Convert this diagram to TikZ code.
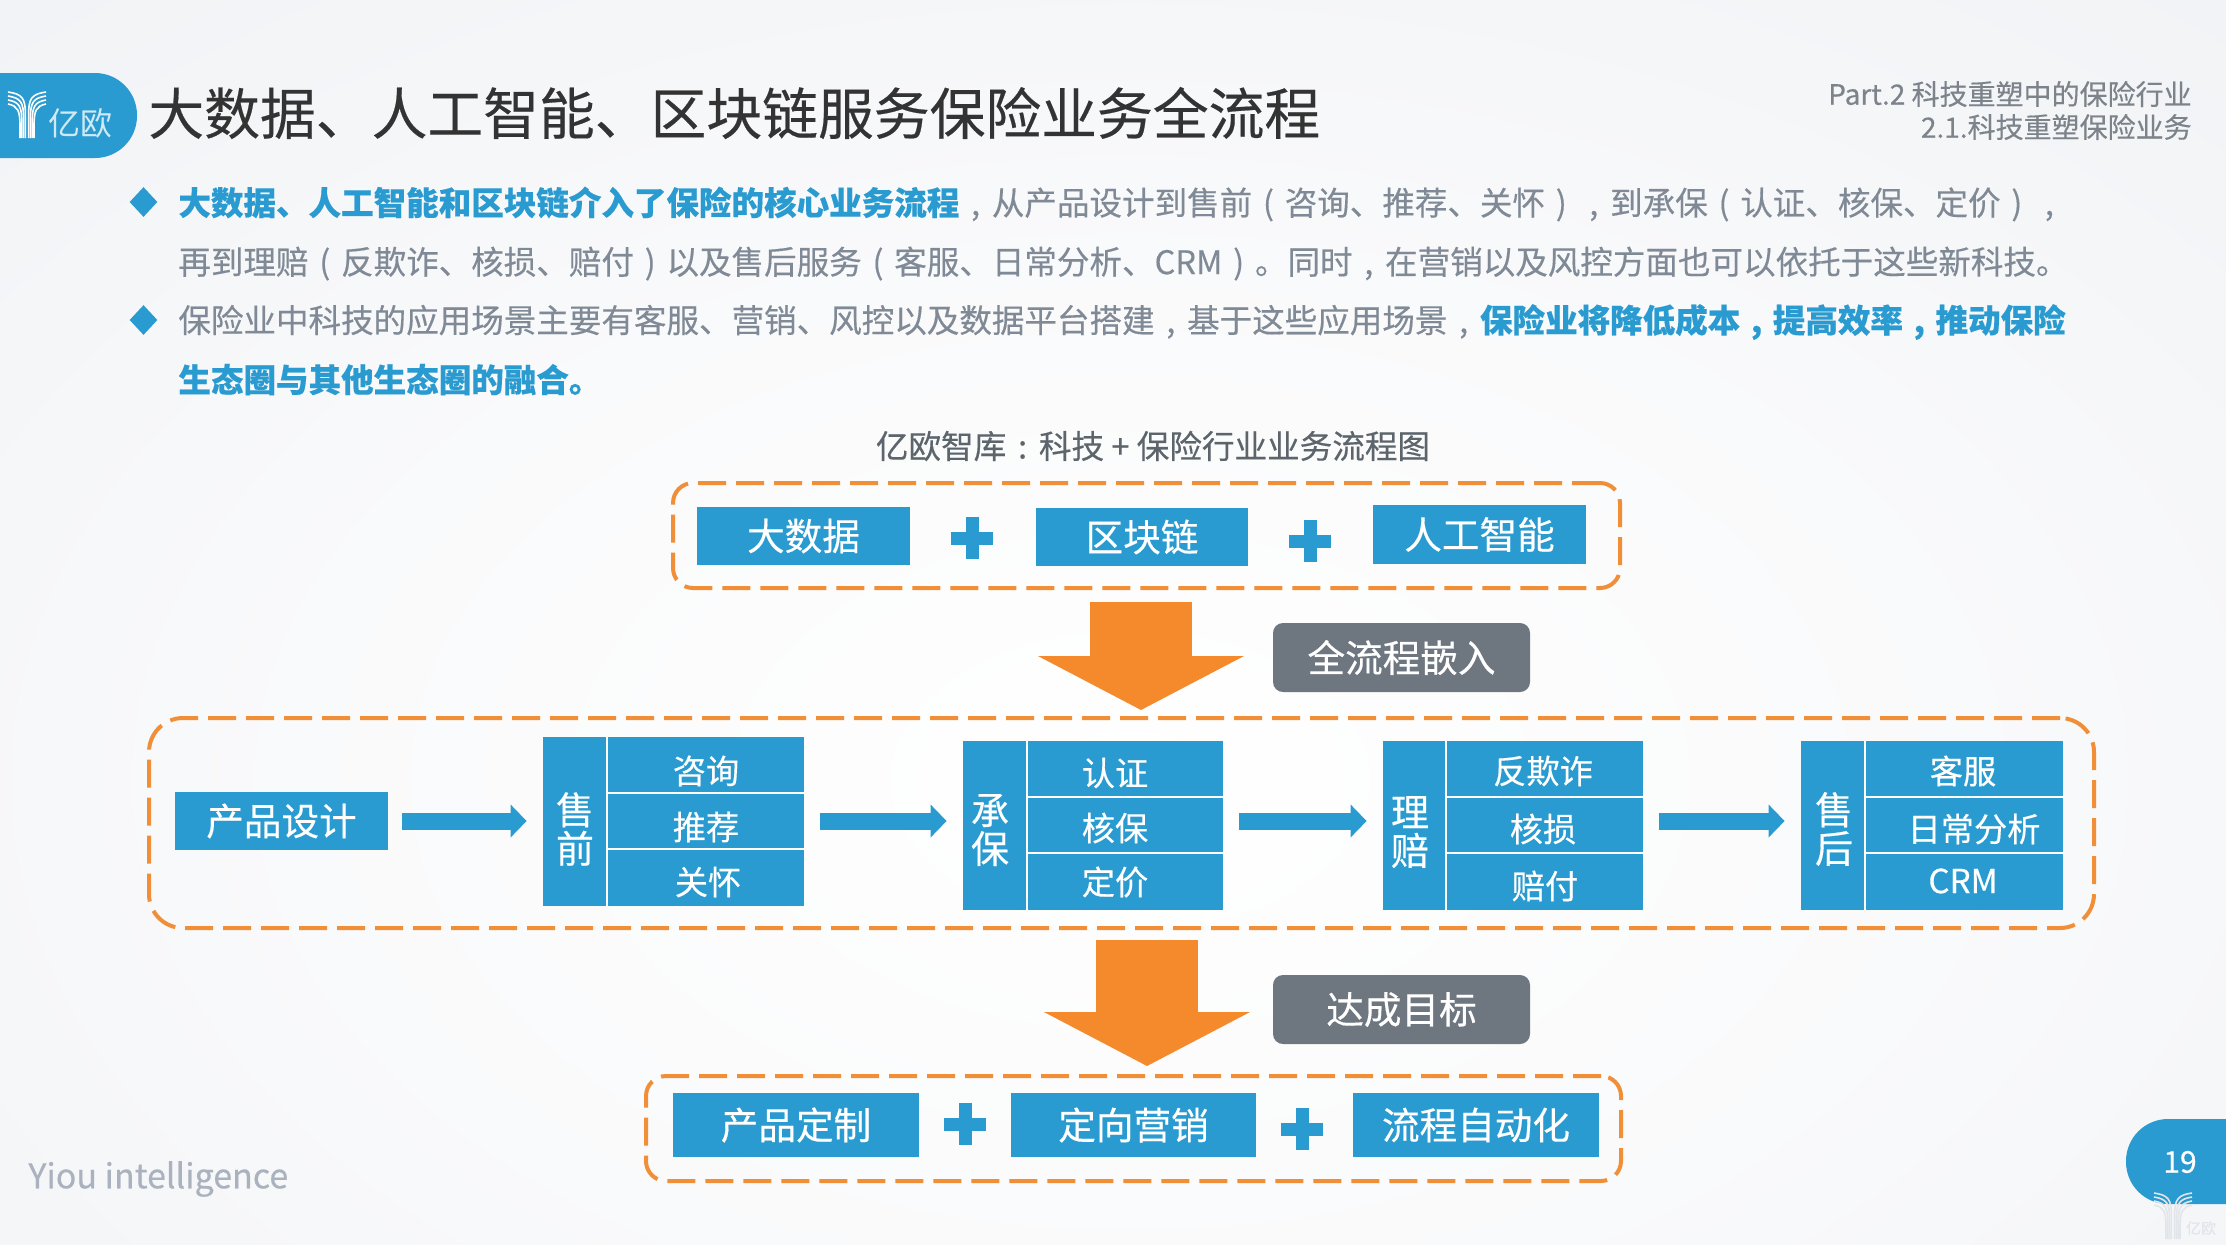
\documentclass[tikz,border=0pt]{standalone}
\usepackage{fontspec}
\setmainfont{Noto Sans CJK SC}[FakeBold=0.35]
\setsansfont{Noto Sans CJK SC}
\newfontfamily\thinf{Noto Sans CJK SC}
\usetikzlibrary{arrows.meta,shapes.geometric}
\definecolor{bgc}{HTML}{EBEDF1}
\definecolor{blu}{HTML}{2A9BD0}
\definecolor{org}{HTML}{F08F38}
\definecolor{orgf}{HTML}{F48A2C}
\definecolor{tagc}{HTML}{6E7680}
\definecolor{bodyc}{HTML}{808A96}
\definecolor{titlec}{HTML}{333333}
\definecolor{capc}{HTML}{5C646C}
\definecolor{hdrc}{HTML}{7C838B}
\definecolor{yiouc}{HTML}{AAB2BF}
\definecolor{markc}{HTML}{E2E5EA}
\definecolor{logot}{HTML}{CFEAF5}
\pgfdeclareradialshading{bgrad}{\pgfpoint{0bp}{0bp}}{color(0bp)=(white); color(9bp)=(white!70!bgc); color(25bp)=(bgc); color(50bp)=(bgc)}
\newcommand{\fs}[1]{\fontsize{#1}{#1}\selectfont}
\newcommand{\hl}[1]{{\bfseries\color{blu}#1}}
\newcommand{\zc}[1]{\makebox[1em][c]{#1}}
\tikzset{
  px/.style={x=0.5pt,y=-0.5pt},
  dashbox/.style={draw=org,line width=2pt,dash pattern=on 14pt off 5pt,inner sep=0pt,fill=none},
  bluebox/.style={fill=blu,text=white,inner sep=0pt,font=\fs{18.8}},
  tagbox/.style={fill=tagc,text=white,inner sep=0pt,rounded corners=5pt,font=\fs{18.8}},
  cell/.style={text=white,inner sep=0pt,font=\fs{16.6}},
  side/.style={text=white,inner sep=0pt,align=center,font=\fontsize{19}{19.3}\selectfont},
  divider/.style={draw=white,line width=0.9pt},
  blockarrow/.style={draw=blu,line width=8.5pt,-{Triangle[length=8pt,width=16pt]},shorten <=8pt,shorten >=8pt},
  bigarrow/.style={draw=orgf,line width=51pt,-{Triangle[length=27pt,width=102pt]}},
  plusbar/.style={draw=blu,line width=6.5pt},
  bodyline/.style={anchor=west,inner sep=0pt,text=bodyc,font=\fs{16.27}},
  bullet/.style={diamond,fill=blu,inner sep=0pt,minimum width=14pt,minimum height=15pt},
  logoline/.style={line width=0.8pt},
}
\newcommand{\pxnode}[7]{% style,name,x1,y1,x2,y2,text
  \pgfmathsetmacro{\pxw}{(#5-#3)/2}\pgfmathsetmacro{\pxh}{(#6-#4)/2}
  \node[#1,minimum width=\pxw pt,minimum height=\pxh pt] (#2) at ({(#3+#5)/2},{(#4+#6)/2}) {#7};}
\newcommand{\plussign}[3]{% name,x,y
  \coordinate (#1) at (#2,#3);
  \draw[plusbar] (#2-21,#3) -- (#2+21,#3);
  \draw[plusbar] (#2,#3-21) -- (#2,#3+21);}
\newcommand{\ylogo}[3]{% x,y,colour
  \begin{scope}[shift={(#1,#2)}]
    \foreach \o in {0,4,8,12}{
      \pgfmathsetmacro{\xa}{12+(12-\o)*0.45}
      \pgfmathsetmacro{\xb}{38-\xa}
      \draw[logoline,#3] (0,\o) .. controls (\xa*0.8,\o+2) and (\xa,\o+6) .. (\xa,\o+22) -- (\xa,46);
      \draw[logoline,#3] (38,\o) .. controls (38-\xa*0.8,\o+2) and (\xb,\o+6) .. (\xb,\o+22) -- (\xb,46);
    }
  \end{scope}}
\begin{document}
\begin{tikzpicture}[px]
\useasboundingbox (0,0) rectangle (2226,1244);
\fill[bgc] (0,0) rectangle (2226,1244);
\begin{scope}
  \clip (0,0) rectangle (2226,1244);
  \shade[shading=bgrad] (1130,780) ellipse (2400 and 1500);
  \fill[blu,rounded corners=21pt] (-60,73) rectangle (137,158);
  \fill[blu,rounded corners=21pt] (2126,1119) rectangle (2300,1204);
\end{scope}
% header
\ylogo{8}{92}{white}
\node[text=logot,inner sep=0pt,font=\thinf\fs{16}] (logotext) at (80,123) {亿欧};
\node[anchor=west,inner sep=0pt,text=titlec,font=\fs{27.9}] (title) at (148,113) {大数据、人工智能、区块链服务保险业务全流程};
\node[anchor=east,inner sep=0pt,text=hdrc,font=\fs{14}] (hdr1) at (2192,94) {Part.2 科技重塑中的保险行业};
\node[anchor=east,inner sep=0pt,text=hdrc,font=\fs{14}] (hdr2) at (2192,127) {2.1.科技重塑保险业务};
% body text
\node[bullet] (b1) at (143.5,202) {};
\node[bullet] (b2) at (143.5,320) {};
\node[bodyline] (l1) at (178,204) {\hl{大数据、人工智能和区块链介入了保险的核心业务流程}\zc{,}从产品设计到售前\zc{(}咨询、推荐、关怀\zc{)}\zc{,}到承保\zc{(}认证、核保、定价\zc{)}\zc{,}};
\node[bodyline] (l2) at (178,263.5) {再到理赔\zc{(}反欺诈、核损、赔付\zc{)}以及售后服务\zc{(}客服、日常分析、CRM\zc{)}。同时\zc{,}在营销以及风控方面也可以依托于这些新科技。};
\node[bodyline] (l3) at (178,322) {保险业中科技的应用场景主要有客服、营销、风控以及数据平台搭建\zc{,}基于这些应用场景\zc{,}\hl{保险业将降低成本\zc{,}提高效率\zc{,}推动保险}};
\node[bodyline] (l4) at (178,379.5) {\hl{生态圈与其他生态圈的融合。}};
\node[inner sep=0pt,text=capc,font=\fs{16.3}] (cap) at (1153,446) {亿欧智库\zc{:}科技\zc{+}保险行业业务流程图};
% top group
\pxnode{dashbox,rounded corners=10pt}{topbox}{673}{483}{1620}{588}{}
\pxnode{bluebox}{t1}{697}{507}{910}{565}{大数据}
\pxnode{bluebox}{t2}{1036}{508}{1248}{566}{区块链}
\pxnode{bluebox}{t3}{1373}{505}{1586}{564}{人工智能}
\plussign{p1}{972}{538}
\plussign{p2}{1310}{541}
% first big arrow
\coordinate (a1s) at (1141,602);
\coordinate (a1e) at (1141,710);
\draw[bigarrow] (a1s) -- (a1e);
\pxnode{tagbox}{tag1}{1273}{623}{1530}{692}{全流程嵌入}
% main group
\pxnode{dashbox,rounded corners=17pt}{mainbox}{149}{718}{2094}{928}{}
\pxnode{bluebox}{prod}{175}{792}{388}{850}{产品设计}
\pxnode{bluebox}{sq}{543}{737}{804}{906}{}
\pxnode{bluebox}{cb}{963}{741}{1223}{910}{}
\pxnode{bluebox}{lp}{1383}{741}{1643}{910}{}
\pxnode{bluebox}{sh}{1801}{741}{2063}{910}{}
\draw[divider] (607,737) -- (607,906) (607,793) -- (804,793) (607,849) -- (804,849);
\draw[divider] (1027,741) -- (1027,910) (1027,797) -- (1223,797) (1027,853) -- (1223,853);
\draw[divider] (1446,741) -- (1446,910) (1446,797) -- (1643,797) (1446,853) -- (1643,853);
\draw[divider] (1865,741) -- (1865,910) (1865,797) -- (2063,797) (1865,853) -- (2063,853);
\node[side] (sq0) at (575,829) {售\\前};
\node[cell] (sq1) at (706,771) {咨询};
\node[cell] (sq2) at (706,827) {推荐};
\node[cell] (sq3) at (708,882) {关怀};
\node[side] (cb0) at (990,830) {承\\保};
\node[cell] (cb1) at (1115,773) {认证};
\node[cell] (cb2) at (1115,828) {核保};
\node[cell] (cb3) at (1115,882) {定价};
\node[side] (lp0) at (1410,832) {理\\赔};
\node[cell] (lp1) at (1543,771) {反欺诈};
\node[cell] (lp2) at (1543,829) {核损};
\node[cell] (lp3) at (1545,886) {赔付};
\node[side] (sh0) at (1834,829) {售\\后};
\node[cell] (sh1) at (1963,771) {客服};
\node[cell] (sh2) at (1974,829) {日常分析};
\node[cell] (sh3) at (1963,881) {CRM};
\coordinate (rowy) at (0,821);
\draw[blockarrow,shorten <=7pt] (rowy -| prod.east) -- (rowy -| sq.west);
\draw[blockarrow] (rowy -| sq.east) -- (rowy -| cb.west);
\draw[blockarrow] (rowy -| cb.east) -- (rowy -| lp.west);
\draw[blockarrow] (rowy -| lp.east) -- (rowy -| sh.west);
% second big arrow
\coordinate (a2s) at (1147,940);
\coordinate (a2e) at (1147,1066);
\draw[bigarrow] (a2s) -- (a2e);
\pxnode{tagbox}{tag2}{1273}{975}{1530}{1044}{达成目标}
% bottom group
\pxnode{dashbox,rounded corners=10pt}{botbox}{646}{1076}{1621}{1181}{}
\pxnode{bluebox}{g1}{673}{1093}{919}{1157}{产品定制}
\pxnode{bluebox}{g2}{1011}{1093}{1256}{1157}{定向营销}
\pxnode{bluebox}{g3}{1353}{1093}{1599}{1157}{流程自动化}
\plussign{p3}{965}{1124}
\plussign{p4}{1302}{1129}
% footer
\node[anchor=west,inner sep=0pt,text=yiouc,font=\fs{17}] (yiou) at (28,1179) {Yiou intelligence};
\node[text=white,inner sep=0pt,font=\fs{15}] (page) at (2180,1162) {19};
\ylogo{2154}{1193}{markc}
\node[inner sep=0pt,text=markc,font=\fs{7.5}] (mark) at (2201,1228) {亿欧};
\end{tikzpicture}
\end{document}
